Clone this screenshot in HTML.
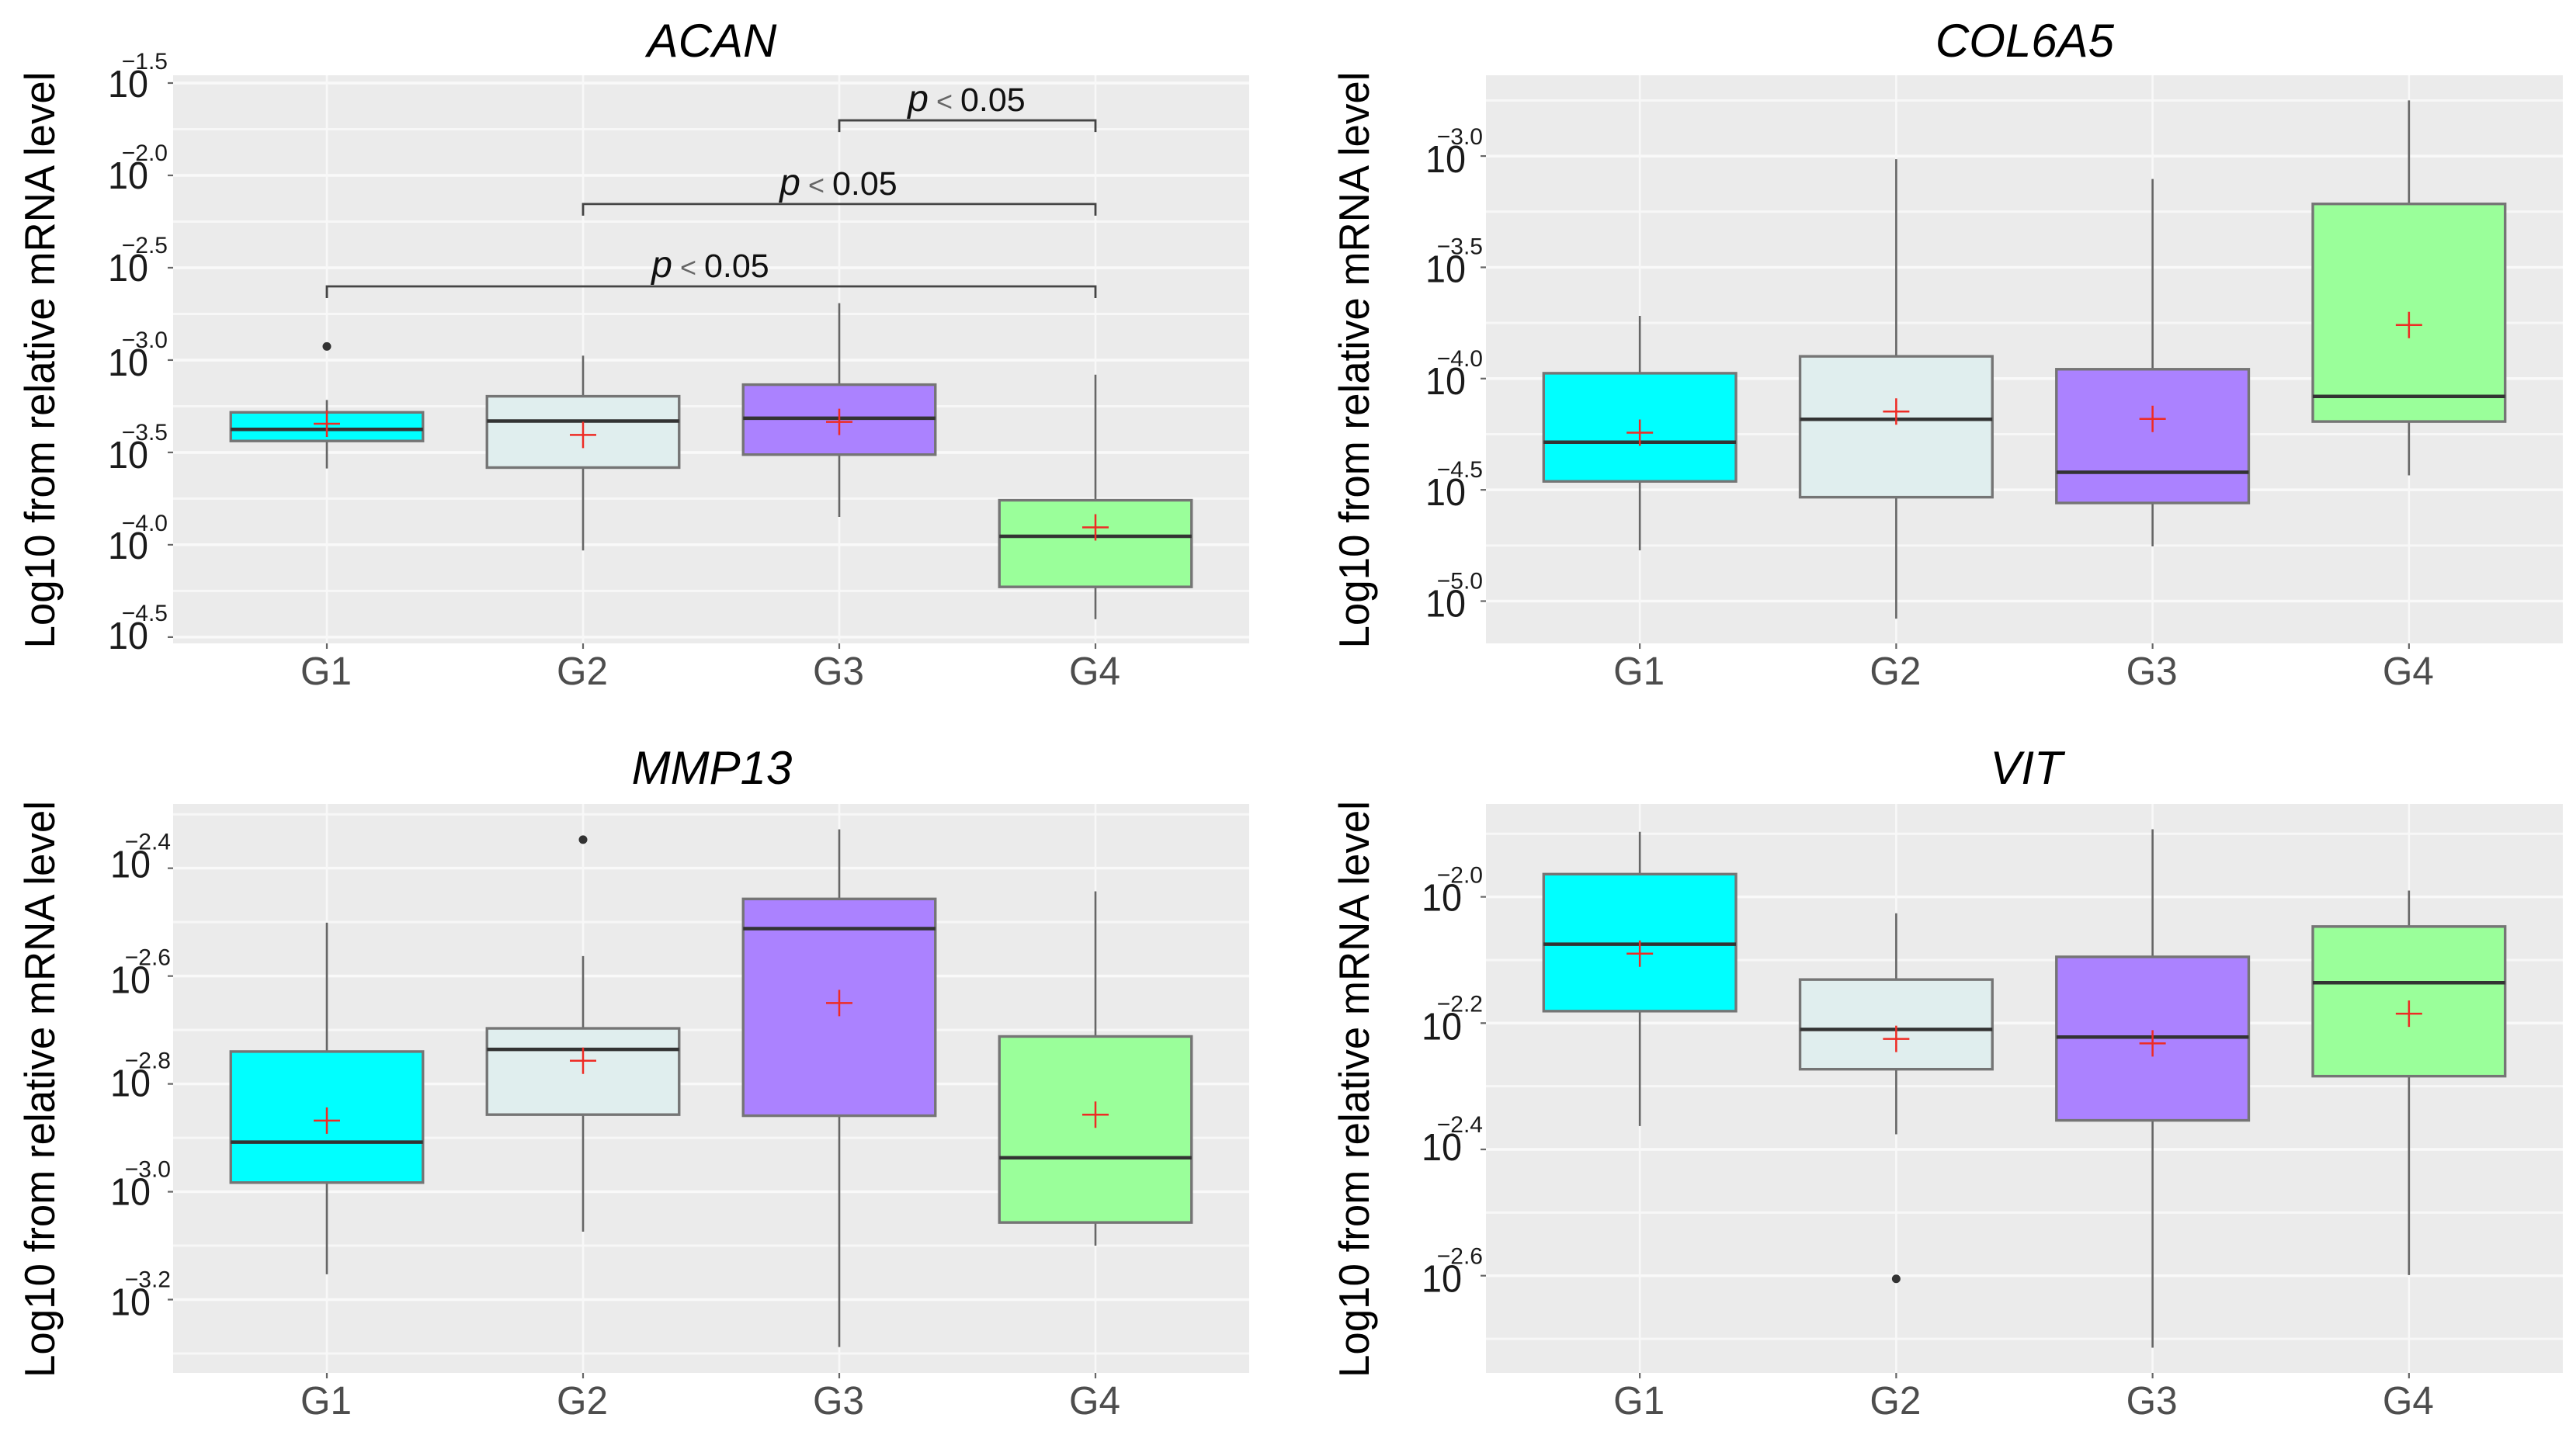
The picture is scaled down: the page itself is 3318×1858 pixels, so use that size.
<!DOCTYPE html>
<html lang="en">
<head>
<meta charset="utf-8">
<title>Relative mRNA levels by group</title>
<style>
html,body{margin:0;padding:0;background:#fff;}
svg{display:block;font-family:"Liberation Sans",Arial,sans-serif;}
</style>
</head>
<body>
<svg id="figure" xmlns="http://www.w3.org/2000/svg" width="3318" height="1858" viewBox="0 0 3318 1858"></svg>
<script>
// Shared categories and fills
const categories = ['G1', 'G2', 'G3', 'G4'];
const groupFills = ['#00ffff', '#e0eeee', '#ab82ff', '#9aff9a'];

// ACAN values (log10)
const acanTicks = [-1.5, -2.0, -2.5, -3.0, -3.5, -4.0, -4.5];
const acanDomain = [-1.458, -4.534];
const acanWhiskerHigh = [-3.216, -2.976, -2.692, -3.079];
const acanQ3 = [-3.283, -3.196, -3.133, -3.759];
const acanMedian = [-3.375, -3.330, -3.315, -3.954];
const acanQ1 = [-3.438, -3.582, -3.512, -4.228];
const acanWhiskerLow = [-3.587, -4.031, -3.849, -4.403];
const acanMean = [-3.345, -3.405, -3.335, -3.906];
const acanOutliers = [[-2.926], [], [], []];
const acanBracketFrom = [2, 1, 0];
const acanBracketTo = [3, 3, 3];
const acanBracketLevel = [-1.702, -2.155, -2.601];
const acanBracketText = ['0.05', '0.05', '0.05'];

// COL6A5 values (log10)
const colTicks = [-3.0, -3.5, -4.0, -4.5, -5.0];
const colDomain = [-2.637, -5.19];
const colWhiskerHigh = [-3.718, -3.014, -3.103, -2.750];
const colQ3 = [-3.976, -3.900, -3.958, -3.215];
const colMedian = [-4.286, -4.183, -4.421, -4.080];
const colQ1 = [-4.462, -4.533, -4.559, -4.193];
const colWhiskerLow = [-4.772, -5.079, -4.754, -4.435];
const colMean = [-4.243, -4.148, -4.181, -3.759];
const colOutliers = [[], [], [], []];

// MMP13 values (log10)
const mmpTicks = [-2.4, -2.6, -2.8, -3.0, -3.2];
const mmpDomain = [-2.281, -3.336];
const mmpWhiskerHigh = [-2.501, -2.563, -2.328, -2.443];
const mmpQ3 = [-2.740, -2.697, -2.457, -2.712];
const mmpMedian = [-2.908, -2.736, -2.512, -2.937];
const mmpQ1 = [-2.983, -2.857, -2.859, -3.057];
const mmpWhiskerLow = [-3.153, -3.074, -3.288, -3.100];
const mmpMean = [-2.868, -2.757, -2.650, -2.857];
const mmpOutliers = [[], [-2.347], [], []];

// VIT values (log10)
const vitTicks = [-2.0, -2.2, -2.4, -2.6];
const vitDomain = [-1.853, -2.754];
const vitWhiskerHigh = [-1.897, -2.026, -1.893, -1.990];
const vitQ3 = [-1.964, -2.131, -2.095, -2.047];
const vitMedian = [-2.075, -2.210, -2.222, -2.136];
const vitQ1 = [-2.181, -2.273, -2.354, -2.284];
const vitWhiskerLow = [-2.363, -2.376, -2.714, -2.599];
const vitMean = [-2.090, -2.225, -2.232, -2.185];
const vitOutliers = [[], [-2.605], [], []];

const SVGNS = 'http://www.w3.org/2000/svg';
const figure = document.getElementById('figure');

function make(tag, attrs, parent) {
  const node = document.createElementNS(SVGNS, tag);
  for (const key in attrs) node.setAttribute(key, attrs[key]);
  parent.appendChild(node);
  return node;
}

function drawPanel(p) {
  const slug = p.title.toLowerCase();
  const g = make('g', {}, figure);
  
  

  const width = p.right - p.left;
  const height = p.bottom - p.top;
  const xUnit = width / 4.2;
  const xScale = i => p.left + (i + 0.6) * xUnit;
  const yScale = v => p.top + (p.domain[0] - v) / (p.domain[0] - p.domain[1]) * height;
  const boxWidth = 0.75 * xUnit;

  const bg = make('rect', {x: p.left, y: p.top, width: width, height: height, fill: '#ebebeb'}, g);
  
  

  // minor horizontal grid lines, halfway between the major breaks
  const step = p.ticks[1] - p.ticks[0];
  const minorCount = p.ticks.length + 1;
  for (let i = 0; i < minorCount; i++) {
    const v = p.ticks[0] + (i - 0.5) * step;
    if (v > p.domain[0] || v < p.domain[1]) continue;
    const minor = make('line', {x1: p.left, x2: p.right, y1: yScale(v), y2: yScale(v), stroke: '#f7f7f7', 'stroke-width': 3}, g);
    
    
  }

  // major horizontal grid lines, ticks and labels
  p.ticks.forEach((v, i) => {
    const y = yScale(v);
    const shift = p.labelShift[i];
    const grid = make('line', {x1: p.left, x2: p.right, y1: y, y2: y, stroke: '#f9f9f9', 'stroke-width': 3.5}, g);
    
    

    const tick = make('line', {x1: p.left - 7, x2: p.left, y1: y, y2: y, stroke: '#666', 'stroke-width': 2.2}, g);
    
    

    const base = make('text', {x: p.baseEnd, y: y + 18 + shift, 'text-anchor': 'end', 'font-size': 49, fill: '#1a1a1a', textLength: 52, lengthAdjust: 'spacingAndGlyphs'}, g);
    base.textContent = '10';
    
    

    const sup = make('text', {x: p.supEnd, y: y - 18 + shift, 'text-anchor': 'end', 'font-size': 30, fill: '#1a1a1a'}, g);
    sup.textContent = '\u2212' + Math.abs(v).toFixed(1);
    
    
  });

  // vertical grid lines, x ticks and labels
  categories.forEach((cat, i) => {
    const x = xScale(i);
    const vgrid = make('line', {x1: x, x2: x, y1: p.top, y2: p.bottom, stroke: '#f8f8f8', 'stroke-width': 2.6}, g);
    
    

    const xtick = make('line', {x1: x, x2: x, y1: p.bottom, y2: p.bottom + 7, stroke: '#666', 'stroke-width': 2.2}, g);
    
    

    const xlabel = make('text', {x: x - 1, y: p.bottom + 53, 'text-anchor': 'middle', 'font-size': 51, fill: '#4d4d4d', textLength: 66, lengthAdjust: 'spacingAndGlyphs'}, g);
    xlabel.textContent = cat;
    
    
  });

  // box plots
  categories.forEach((cat, i) => {
    const x = xScale(i);
    const whisker = make('line', {x1: x, x2: x, y1: yScale(p.whiskerHigh[i]), y2: yScale(p.whiskerLow[i]), stroke: '#666', 'stroke-width': 2.6}, g);
    
    

    const box = make('rect', {x: x - boxWidth / 2, y: yScale(p.q3[i]), width: boxWidth, height: yScale(p.q1[i]) - yScale(p.q3[i]), fill: groupFills[i], stroke: '#757575', 'stroke-width': 3.4}, g);
    
    

    const med = make('line', {x1: x - boxWidth / 2, x2: x + boxWidth / 2, y1: yScale(p.median[i]), y2: yScale(p.median[i]), stroke: '#333', 'stroke-width': 4.5}, g);
    
    

    p.outliers[i].forEach(v => {
      const dot = make('circle', {cx: x, cy: yScale(v), r: 5.5, fill: '#333'}, g);
      
      
    });

    const my = yScale(p.mean[i]);
    const mean = make('path', {d: 'M' + (x - 17) + ' ' + my + 'H' + (x + 17) + 'M' + x + ' ' + (my - 17) + 'V' + (my + 17), stroke: '#ee2b24', 'stroke-width': 2.5, fill: 'none'}, g);
    
    
  });

  // significance brackets
  if (p.bracketFrom) {
    p.bracketFrom.forEach((from, i) => {
      const x1 = xScale(from);
      const x2 = xScale(p.bracketTo[i]);
      const y = yScale(p.bracketLevel[i]);
      const bracket = make('path', {d: 'M' + x1 + ' ' + (y + 15) + 'V' + y + 'H' + x2 + 'V' + (y + 15), stroke: '#444', 'stroke-width': 2.8, fill: 'none'}, g);
      
      

      const label = make('text', {x: (x1 + x2) / 2 - 1, y: y - 12, 'text-anchor': 'middle', 'font-size': 43, fill: '#111', style: 'white-space:pre'}, g);
      
      
      const pPart = make('tspan', {'font-style': 'italic', 'font-size': 48}, label);
      pPart.textContent = 'p';
      const ltPart = make('tspan', {'font-size': 36, fill: '#666'}, label);
      ltPart.textContent = ' < ';
      const valuePart = make('tspan', {}, label);
      valuePart.textContent = p.bracketText[i];
    });
  }

  // title
  const title = make('text', {x: p.titleX, y: p.titleY, 'text-anchor': 'middle', 'font-size': 60, 'font-style': 'italic', fill: '#000'}, g);
  title.textContent = p.title;
  
  

  // y axis title
  const cy = (p.top + p.bottom) / 2 + 1;
  const ytitle = make('text', {transform: 'translate(' + p.yTitleX + ' ' + cy + ') rotate(-90)', 'text-anchor': 'middle', 'font-size': 55, fill: '#000', textLength: 743, lengthAdjust: 'spacingAndGlyphs'}, g);
  ytitle.textContent = 'Log10 from relative mRNA level';
  
  
}

drawPanel({
  title: 'ACAN', left: 223, right: 1609, top: 97, bottom: 829,
  titleX: 917, titleY: 73, yTitleX: 70, baseEnd: 191, supEnd: 216,
  labelShift: [0, -1, -1, 2, 2, 0, -3],
  ticks: acanTicks, domain: acanDomain,
  whiskerHigh: acanWhiskerHigh, q3: acanQ3, median: acanMedian, q1: acanQ1,
  whiskerLow: acanWhiskerLow, mean: acanMean, outliers: acanOutliers,
  bracketFrom: acanBracketFrom, bracketTo: acanBracketTo,
  bracketLevel: acanBracketLevel, bracketText: acanBracketText
});
drawPanel({
  title: 'COL6A5', left: 1914, right: 3301, top: 97, bottom: 829,
  titleX: 2608, titleY: 73, yTitleX: 1763, baseEnd: 1888, supEnd: 1910,
  labelShift: [3, 1, 2, 2, 2],
  ticks: colTicks, domain: colDomain,
  whiskerHigh: colWhiskerHigh, q3: colQ3, median: colMedian, q1: colQ1,
  whiskerLow: colWhiskerLow, mean: colMean, outliers: colOutliers
});
drawPanel({
  title: 'MMP13', left: 223, right: 1609, top: 1036, bottom: 1769,
  titleX: 917, titleY: 1010, yTitleX: 70, baseEnd: 194, supEnd: 220,
  labelShift: [-6, 4, -2, -1, 2],
  ticks: mmpTicks, domain: mmpDomain,
  whiskerHigh: mmpWhiskerHigh, q3: mmpQ3, median: mmpMedian, q1: mmpQ1,
  whiskerLow: mmpWhiskerLow, mean: mmpMean, outliers: mmpOutliers
});
drawPanel({
  title: 'VIT', left: 1914, right: 3301, top: 1036, bottom: 1769,
  titleX: 2610, titleY: 1010, yTitleX: 1763, baseEnd: 1883, supEnd: 1910,
  labelShift: [0, 3, -4, 3],
  ticks: vitTicks, domain: vitDomain,
  whiskerHigh: vitWhiskerHigh, q3: vitQ3, median: vitMedian, q1: vitQ1,
  whiskerLow: vitWhiskerLow, mean: vitMean, outliers: vitOutliers
});
</script>
</body>
</html>
